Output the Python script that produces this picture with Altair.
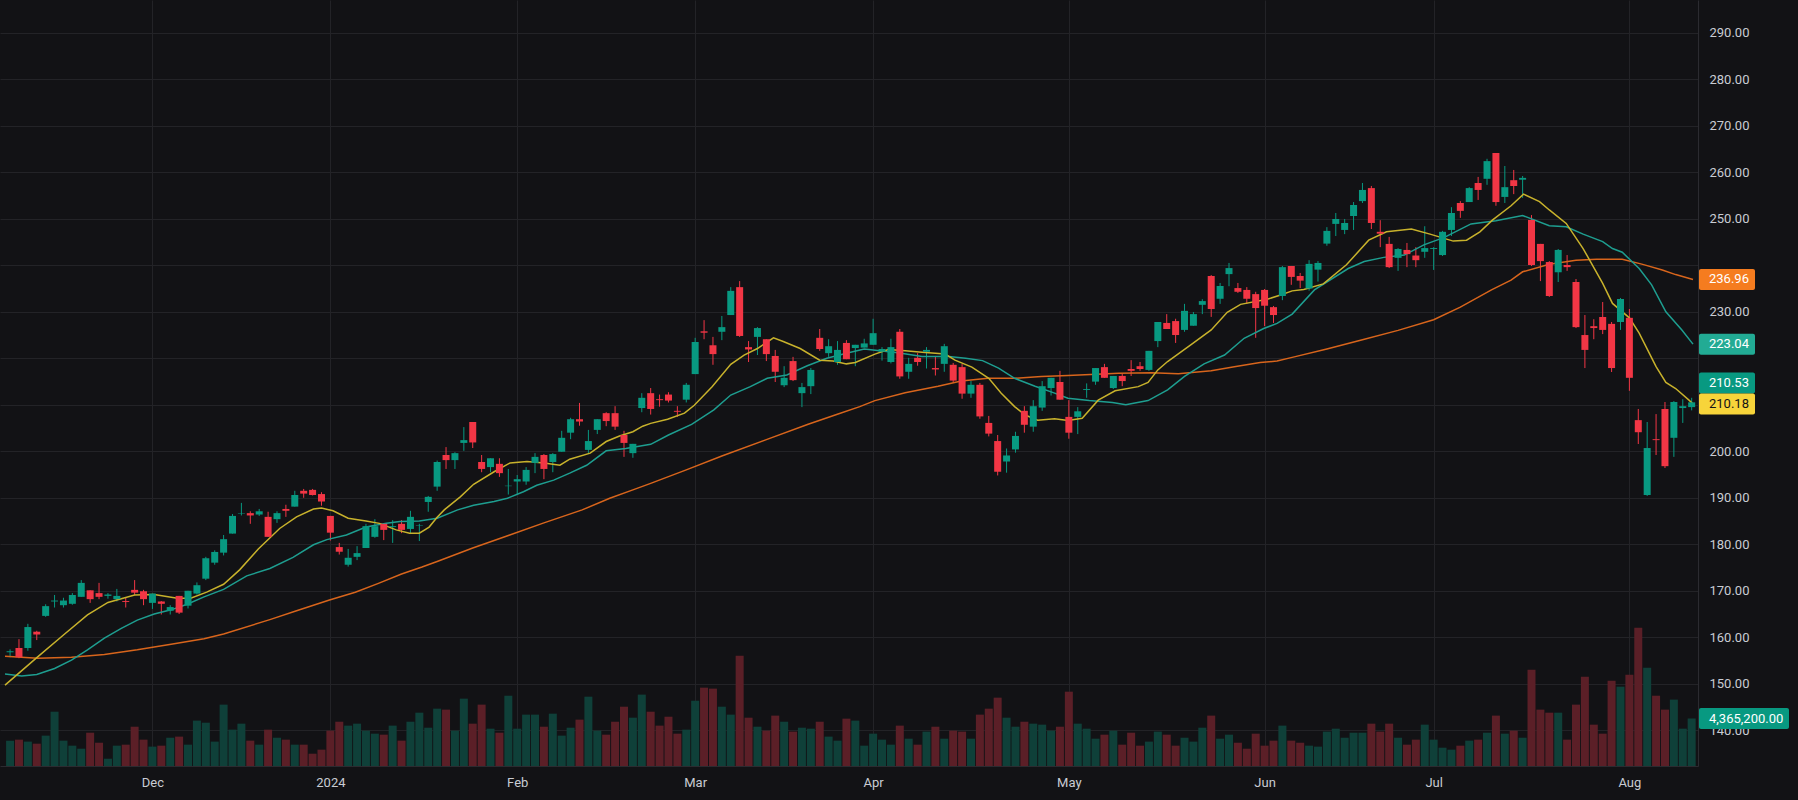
import altair as alt
import pandas as pd

# ---------------- data ----------------
month_idx = [16, 36, 57, 77, 97, 119, 141, 160, 182]
month_lbl = ["Dec", "2024", "Feb", "Mar", "Apr", "May", "Jun", "Jul", "Aug"]

opens = [156.8, 157.7, 157.7, 161.2, 164.6, 167.7, 166.9, 167.2, 168.7, 170.1,
         169.5, 168.9, 168.2, 167.8, 170.2, 169.9, 167.4, 167.7, 165.7, 168.9,
         166.8, 169.4, 172.6, 176.05, 178.2, 182.3, 186.6, 186.7, 186.4, 185.9,
         185.4, 187.6, 188.1, 191.5, 191.7, 190.8, 186.1, 179.4, 175.6, 177.3,
         179.2, 181.6, 184.4, 183.7, 184.4, 183.3, 184.0, 189.1, 192.4, 199.2,
         198.1, 201.8, 206.3, 197.7, 196.6, 197.3, 192.5, 193.5, 193.5, 197.5,
         199.2, 197.7, 199.9, 204.0, 206.9, 200.3, 204.6, 208.2, 208.2, 203.5,
         199.6, 209.3, 212.5, 211.2, 212.2, 208.7, 211.1, 216.6, 225.8, 222.8,
         225.7, 229.3, 235.3, 222.4, 224.6, 224.1, 220.5, 214.2, 219.4, 212.5,
         214.0, 224.4, 221.1, 219.2, 223.3, 222.2, 222.3, 222.9, 221.4, 219.2,
         225.7, 217.1, 220.1, 221.4, 217.9, 218.8, 218.6, 218.1, 212.4, 214.3,
         206.1, 202.2, 197.8, 200.4, 208.7, 205.3, 209.4, 213.6, 214.9, 207.4,
         207.4, 213.2, 214.98, 218.1, 213.6, 216.2, 217.7, 218.3, 217.5, 223.7,
         227.6, 228.0, 226.1, 227.0, 231.5, 237.7, 232.8, 238.1, 235.1, 234.7,
         233.8, 234.7, 231.0, 233.4, 239.85, 237.7, 235.0, 239.06, 244.66, 248.9,
         247.6, 250.6, 253.8, 256.6, 247.2, 244.6, 241.6, 243.3, 242.1, 242.9,
         243.5, 242.2, 247.6, 253.4, 253.6, 257.7, 258.6, 264.15, 254.7, 258.3,
         258.4, 249.75, 244.6, 240.7, 238.5, 240.06, 236.4, 225.0, 226.9, 228.88,
         227.4, 227.8, 228.7, 206.7, 190.6, 202.6, 209.1, 202.9, 209.3, 209.5]
highs = [157.4, 159.6, 162.9, 161.4, 167.1, 169.1, 168.5, 169.5, 172.3, 170.1,
         171.7, 169.5, 170.4, 168.5, 172.3, 170.2, 169.4, 167.8, 166.9, 168.9,
         170.0, 171.8, 177.3, 178.7, 182.0, 186.5, 188.9, 187.1, 187.6, 187.0,
         187.1, 188.5, 191.5, 191.9, 191.9, 191.2, 186.1, 180.3, 179.0, 179.6,
         184.4, 185.4, 184.4, 185.2, 185.2, 187.2, 184.4, 190.4, 198.0, 200.9,
         199.8, 205.2, 206.3, 199.2, 198.5, 198.5, 196.2, 194.9, 196.6, 199.6,
         199.4, 199.6, 204.4, 207.2, 210.4, 204.6, 206.9, 208.4, 209.7, 204.4,
         201.6, 212.5, 213.6, 212.2, 212.7, 209.7, 214.7, 224.4, 228.2, 224.6,
         229.1, 235.3, 236.6, 223.7, 226.7, 224.1, 221.8, 218.3, 220.3, 214.7,
         217.9, 226.3, 224.1, 223.7, 223.9, 222.9, 224.2, 228.5, 222.4, 224.2,
         226.3, 220.1, 221.1, 222.4, 220.5, 223.1, 219.0, 218.8, 215.1, 214.7,
         207.6, 203.5, 200.6, 204.2, 209.7, 211.0, 215.1, 215.8, 217.3, 211.0,
         209.5, 214.6, 217.9, 218.8, 216.2, 216.8, 219.6, 219.2, 221.6, 227.8,
         229.5, 228.5, 231.7, 229.96, 232.7, 237.9, 236.2, 240.5, 236.2, 235.3,
         234.3, 234.9, 231.25, 239.85, 239.85, 238.35, 241.1, 240.9, 248.2, 251.25,
         249.96, 253.6, 257.7, 257.06, 249.7, 246.1, 243.7, 244.8, 243.9, 248.4,
         243.9, 247.4, 252.5, 253.8, 256.8, 259.0, 262.9, 264.15, 261.35, 260.5,
         259.2, 250.8, 244.6, 240.9, 243.5, 242.2, 237.05, 229.3, 228.4, 232.1,
         227.8, 232.97, 230.6, 209.1, 206.3, 208.0, 210.6, 210.8, 211.2, 211.5]
lows = [155.7, 155.5, 157.1, 159.4, 164.4, 166.4, 166.4, 167.0, 168.7, 167.4,
        168.2, 168.3, 167.7, 166.4, 169.1, 166.9, 166.1, 164.9, 164.9, 165.0,
        166.2, 169.2, 172.3, 175.6, 177.6, 182.3, 186.2, 184.4, 186.1, 181.6,
        184.6, 185.9, 188.1, 190.0, 190.5, 188.3, 180.8, 177.8, 175.2, 176.6,
        179.2, 181.4, 180.9, 180.3, 182.4, 182.2, 180.7, 187.0, 191.5, 196.2,
        196.2, 200.1, 200.7, 195.5, 195.5, 194.5, 190.7, 190.7, 192.8, 195.3,
        194.0, 195.5, 199.9, 202.6, 205.5, 199.6, 203.7, 205.4, 204.6, 198.8,
        198.6, 208.4, 207.9, 209.6, 210.5, 207.4, 210.5, 216.6, 224.1, 218.6,
        223.9, 229.3, 224.6, 219.2, 220.7, 219.4, 214.9, 213.8, 215.1, 209.5,
        212.3, 221.6, 220.3, 218.6, 219.8, 218.3, 222.3, 222.9, 219.5, 218.9,
        215.6, 215.6, 218.4, 217.8, 216.3, 217.1, 214.8, 211.3, 211.5, 207.0,
        203.2, 194.8, 195.4, 199.7, 204.0, 204.2, 208.7, 212.0, 211.1, 202.7,
        203.7, 211.5, 214.3, 215.8, 213.4, 214.0, 216.2, 217.3, 217.3, 222.4,
        226.3, 223.3, 225.7, 227.0, 229.5, 228.9, 231.7, 235.5, 234.05, 231.7,
        224.4, 226.9, 227.6, 232.5, 235.8, 235.1, 234.55, 236.5, 244.2, 246.3,
        246.7, 247.6, 253.4, 247.8, 243.9, 239.4, 238.8, 239.6, 239.6, 241.6,
        239.0, 242.0, 246.3, 250.2, 253.6, 254.05, 257.3, 252.8, 253.4, 255.3,
        254.5, 239.85, 236.6, 233.2, 236.4, 238.8, 226.5, 217.9, 224.1, 225.2,
        217.05, 226.1, 213.0, 201.57, 190.4, 199.2, 196.4, 198.8, 206.1, 208.8]
closes = [157.0, 155.7, 162.2, 160.6, 166.7, 167.9, 167.9, 169.1, 171.7, 168.2,
          168.7, 169.2, 168.9, 167.6, 169.6, 168.2, 169.4, 167.2, 166.5, 165.3,
          170.0, 171.2, 177.0, 178.35, 181.1, 186.1, 186.7, 186.2, 187.1, 181.6,
          186.7, 187.2, 190.6, 190.9, 190.6, 189.2, 182.5, 178.4, 177.1, 178.1,
          183.9, 183.9, 183.1, 183.9, 183.1, 185.9, 184.1, 190.2, 197.7, 198.1,
          199.6, 202.4, 201.9, 196.2, 198.5, 195.3, 192.6, 194.0, 196.0, 198.8,
          196.2, 199.4, 202.9, 206.9, 206.4, 202.2, 206.9, 206.5, 205.3, 201.8,
          201.6, 211.5, 209.1, 211.0, 210.9, 208.5, 214.3, 223.5, 225.5, 220.9,
          226.7, 234.5, 224.8, 221.9, 226.5, 220.9, 217.1, 215.8, 215.3, 213.8,
          217.5, 222.0, 222.6, 221.8, 219.8, 222.9, 223.2, 225.4, 222.0, 222.4,
          216.1, 218.8, 219.2, 221.8, 217.6, 222.6, 215.2, 212.4, 214.3, 207.5,
          203.8, 195.6, 199.1, 203.3, 205.7, 209.7, 214.0, 215.8, 211.1, 204.0,
          208.6, 213.4, 217.9, 215.8, 216.2, 215.1, 217.3, 217.7, 221.6, 227.8,
          226.3, 225.0, 230.2, 229.5, 232.3, 230.6, 235.55, 239.4, 234.3, 232.8,
          230.8, 231.3, 229.3, 239.6, 237.5, 236.7, 240.3, 240.5, 247.4, 249.96,
          249.1, 252.97, 256.2, 249.1, 246.8, 239.6, 243.5, 242.4, 241.1, 243.7,
          243.7, 247.2, 251.25, 251.7, 256.6, 256.2, 262.4, 253.6, 256.8, 257.05,
          258.8, 240.06, 240.9, 233.4, 243.3, 239.6, 226.7, 221.8, 226.5, 226.1,
          217.9, 232.75, 215.8, 204.1, 200.7, 202.4, 196.8, 210.6, 209.7, 210.53]
volumes_m = [2.33, 2.42, 2.24, 2.05, 2.79, 4.99, 2.33, 1.87, 1.59, 3.06,
             2.14, 0.67, 1.87, 1.96, 3.61, 2.42, 1.78, 1.87, 2.60, 2.70,
             1.96, 4.17, 3.98, 2.24, 5.64, 3.34, 3.89, 2.33, 1.96, 3.34,
             2.60, 2.42, 1.96, 1.96, 1.13, 1.50, 3.25, 4.07, 3.71, 3.89,
             3.25, 2.97, 2.88, 3.71, 2.33, 4.07, 4.90, 3.52, 5.27, 5.18,
             3.25, 6.19, 3.89, 5.64, 3.43, 3.06, 6.46, 3.43, 4.72, 4.72,
             3.61, 4.81, 2.79, 3.52, 4.26, 6.37, 3.25, 2.88, 4.07, 5.45,
             4.44, 6.56, 4.99, 3.71, 4.53, 2.97, 3.34, 6.00, 7.20, 7.11,
             5.45, 4.72, 10.14, 4.44, 3.61, 3.25, 4.63, 4.07, 3.16, 3.52,
             3.43, 4.07, 2.70, 2.33, 4.35, 4.17, 1.87, 2.97, 2.42, 1.96,
             3.71, 2.51, 1.96, 3.16, 3.61, 2.51, 3.25, 3.16, 2.51, 4.72,
             5.27, 6.28, 4.44, 3.61, 4.07, 3.89, 3.80, 3.25, 3.61, 6.83,
             3.89, 3.43, 2.51, 2.88, 3.25, 1.96, 3.06, 1.87, 2.24, 3.16,
             2.88, 1.87, 2.60, 2.24, 3.52, 4.63, 2.51, 2.88, 2.14, 1.59,
             2.97, 1.87, 2.33, 3.71, 2.33, 2.14, 1.87, 1.78, 3.16, 3.43,
             2.60, 3.06, 3.06, 3.89, 3.16, 3.89, 2.60, 1.96, 2.42, 3.80,
             2.42, 1.68, 1.50, 1.87, 2.33, 2.42, 3.06, 4.63, 2.97, 3.25,
             2.60, 8.85, 5.18, 4.90, 4.90, 2.42, 5.64, 8.21, 3.80, 2.97,
             7.84, 7.29, 8.39, 12.71, 9.04, 6.46, 5.18, 6.10, 3.43, 4.3652]

# moving-average lines (bar index, value)
fast_i = [-0.57, 3.1, 6, 8.7, 11, 14, 16.2, 18.8, 20.3, 22.1,
          24, 25.8, 27.9, 30.3, 32.2, 34.1, 35, 36.3, 38, 40,
          41.5, 43.4, 44.9, 46, 47.1, 48, 48.8, 50.6, 52.1, 54.4,
          56.2, 58.1, 60, 61.8, 62.9, 65.2, 67, 68.5, 70, 71.1,
          72, 73.9, 75.8, 76.9, 78.9, 81, 82.5, 84, 85.8, 86.9,
          88.8, 91, 92.5, 94, 95, 97.2, 98.7, 100.6, 102.5, 105.1,
          106.2, 108.1, 110, 111.4, 112.9, 114.1, 115.5, 117.4, 118.9, 120.5,
          122.3, 124.2, 126.8, 127.9, 129, 130.1, 132.7, 135, 136.8, 138.3,
          141.3, 142.8, 144.1, 145.4, 147.6, 150.2, 152.7, 154.7, 157.5, 159.6,
          162.2, 163.7, 165.2, 166.6, 168.7, 170.1, 171.9, 173, 174.9, 176.8,
          179, 180.1, 182, 183.1, 185, 186.1, 187.2, 188.7, 189.15]
fast_v = [149.7, 155.8, 160.5, 164.8, 167.5, 169.1, 169.2, 168.4, 168.4, 169.7,
          171.4, 174.5, 179.0, 183.4, 185.9, 187.6, 187.8, 187.2, 185.6, 185.0,
          184.5, 183.1, 182.4, 182.4, 183.7, 185.8, 187.4, 190.2, 192.9, 195.6,
          197.5, 197.8, 197.5, 197.0, 198.3, 199.6, 202.1, 203.3, 204.2, 205.4,
          206.0, 206.9, 208.2, 209.9, 213.9, 218.7, 220.7, 222.1, 224.4, 223.6,
          222.1, 219.6, 219.4, 218.8, 219.1, 220.9, 221.9, 221.6, 221.3, 220.9,
          219.6, 218.1, 215.7, 212.5, 209.6, 207.8, 206.7, 207.0, 206.6, 207.1,
          211.0, 213.0, 213.9, 214.8, 217.5, 219.3, 222.9, 226.1, 229.9, 231.6,
          232.7, 233.6, 234.5, 234.8, 236.0, 240.1, 245.4, 247.2, 247.8, 246.7,
          245.2, 245.4, 247.2, 249.7, 252.8, 255.3, 253.7, 251.9, 249.0, 243.6,
          236.1, 231.8, 228.7, 225.4, 218.2, 214.8, 213.5, 211.0, 210.18]
mid_i = [-0.57, 1.3, 3, 5, 6.9, 8.7, 10.6, 12.5, 14.3, 16.2,
         18.1, 19.9, 21.8, 22.9, 24, 26.6, 29.2, 31.8, 34.1, 35.6,
         37.8, 40, 42.3, 43.8, 46, 48, 50.3, 52.1, 54.4, 55.9,
         57.7, 59.2, 61.1, 62.9, 64.8, 67, 69.2, 72, 74, 76.6,
         79.1, 81, 83.2, 85.1, 87.3, 89.6, 91.8, 94, 96, 99.8,
         102.5, 105.5, 107.4, 109.3, 111.1, 112.9, 115.2, 117.4, 118.9, 121.3,
         123.9, 125.4, 127.9, 130.1, 132, 134.2, 136.5, 138.7, 140.9, 142.4,
         144.1, 146.6, 150.4, 152.2, 154.4, 156.7, 158.9, 161.2, 164.2, 167,
         170, 173, 174.9, 176.8, 179, 180.1, 181.2, 183.1, 184.5, 186.1, 187.9, 189.15]
mid_v = [152.1, 151.7, 152.0, 153.3, 155.1, 157.3, 159.8, 161.9, 163.7, 165.0,
         165.9, 167.1, 168.7, 169.5, 170.3, 173.2, 174.8, 177.2, 179.9, 181.0,
         182.0, 183.7, 184.5, 184.9, 185.0, 185.6, 187.4, 188.4, 189.2, 189.9,
         191.3, 192.7, 193.8, 195.3, 197.0, 200.1, 200.6, 201.5, 203.5, 205.8,
         208.9, 212.1, 213.9, 215.7, 216.4, 218.4, 220.0, 221.1, 222.0, 221.2,
         220.4, 220.4, 220.0, 219.5, 217.9, 215.7, 214.0, 212.5, 211.4, 210.9,
         210.5, 210.0, 210.9, 213.2, 216.1, 218.8, 220.7, 224.3, 226.4, 227.5,
         229.5, 234.7, 239.3, 240.8, 241.7, 242.2, 244.4, 246.0, 248.9, 249.6,
         250.7, 248.5, 248.3, 246.7, 245.1, 243.6, 242.8, 239.3, 235.8, 230.0, 226.1, 223.04]
slow_i = [-0.57, 3.1, 6.9, 10.6, 14.3, 18.1, 21.8, 24, 29.2, 32.2,
          35.9, 38.8, 41.4, 44, 46.3, 48, 52, 56, 60, 64.3,
          67.4, 70, 72, 76, 80, 85, 89.7, 92.9, 95.5, 97.2,
          100.6, 104.3, 106.9, 109.9, 112.9, 115.9, 118.9, 124.6, 128.3, 131.3,
          135, 137.6, 140.5, 142.4, 144.1, 148, 152, 156, 160, 163,
          166.5, 168.7, 170, 173, 176, 178.3, 181.2, 183.5, 185.7, 187.2, 189.15]
slow_v = [155.9, 155.5, 155.7, 156.3, 157.3, 158.5, 159.7, 160.7, 163.8, 165.7,
          168.0, 169.7, 171.6, 173.6, 175.1, 176.3, 179.2, 181.9, 184.6, 187.4,
          189.9, 191.7, 193.1, 196.0, 199.0, 202.5, 205.8, 207.9, 209.6, 210.9,
          212.6, 214.0, 215.1, 215.7, 215.7, 216.1, 216.3, 216.8, 216.9, 216.7,
          217.3, 218.2, 219.1, 219.4, 220.2, 222.0, 224.0, 226.0, 228.3, 231.0,
          234.7, 236.8, 238.6, 240.2, 241.1, 241.3, 241.3, 240.2, 239.0, 238.0, 236.96]

# last-value tags on the price scale
tag_text = ["236.96", "223.04", "210.53", "210.18"]
tag_price = [236.96, 223.04, 210.53, 210.18]
tag_fill = ["#f57c1f", "#22ab94", "#089981", "#f7d43a"]
tag_ink = ["#ffffff", "#ffffff", "#ffffff", "#131316"]
vol_tag_text = "4,365,200.00"
vol_tag_value = 4365200

# ---------------- styling / layout ----------------
W, H = 1698, 766
X0, X1 = -0.57, 189.15
P0, P1 = 132.32, 297.05
VOL_TOP = H * 91900
BG = "#121215"
GRID = "#232327"
SEP = "#2b2b30"
TXT = "#c9ccd3"
FONT = "Roboto"
UP, DOWN = "#089981", "#f23645"
VUP, VDOWN = "#0f4039", "#5b1f27"
TAG_H = 21
PX = H / (P1 - P0)

n = len(opens)
df = pd.DataFrame({"i": list(range(n)), "o": opens, "h": highs, "l": lows, "c": closes,
                   "v": [v * 1e6 for v in volumes_m]})
df["dir"] = ["up" if c >= o else "down" for o, c in zip(df.o, df.c)]

xs = alt.Scale(domain=[X0, X1], nice=False, zero=False)
ps = alt.Scale(domain=[P0, P1], nice=False, zero=False)
vs = alt.Scale(domain=[0, VOL_TOP], nice=False, zero=False)

# resolve overlapping tags (stack upward like the reference)
order = sorted(range(len(tag_price)), key=lambda k: tag_price[k])
centers = {}
prev = None
for k in order:
    yc = (P1 - tag_price[k]) * PX
    if prev is not None and yc > prev - TAG_H:
        yc = prev - TAG_H
    centers[k] = yc
    prev = yc
tags = pd.DataFrame({
    "t": tag_text,
    "fill": tag_fill,
    "ink": tag_ink,
    "pc": [P1 - centers[k] / PX for k in range(len(tag_price))],
})
tags["lo"] = tags.pc - (TAG_H / 2) / PX
tags["hi"] = tags.pc + (TAG_H / 2) / PX

hidden = [v for v in range(140, 300, 10)
          if any(abs((P1 - v) * PX - centers[k]) < 14.15 for k in centers)]
hide_expr = "indexof([" + ",".join(str(v) for v in hidden) + "], datum.value) >= 0 ? '' : format(datum.value, '.2f')"

lbl_expr = ""
for v, s in zip(month_idx, month_lbl):
    lbl_expr += f"datum.value == {v} ? '{s}' : "
lbl_expr += "''"

x_axis = alt.Axis(values=month_idx, labelExpr=lbl_expr, grid=True, gridColor=GRID,
                  ticks=False, domain=True, domainColor=SEP, labelColor=TXT,
                  labelFontSize=13, labelFont=FONT, labelPadding=10, title=None,
                  labelAngle=0, labelFlush=False)
X = alt.X("i:Q", scale=xs, axis=x_axis)

y_axis = alt.Axis(orient="right", values=list(range(140, 300, 10)), labelExpr=hide_expr,
                  grid=True, gridColor=GRID, ticks=False, domain=True, domainColor=SEP,
                  labelColor=TXT, labelFontSize=13, labelFont=FONT, labelPadding=11,
                  title=None, labelFlush=False)

is_up = alt.datum.dir == "up"
dir_color = alt.condition(is_up, alt.value(UP), alt.value(DOWN))
vol_color = alt.condition(is_up, alt.value(VUP), alt.value(VDOWN))

base = alt.Chart(df)

vol = base.mark_bar(size=8, clip=True).encode(
    x=X, y=alt.Y("v:Q", scale=vs, axis=None), color=vol_color)

wick = base.mark_rule(strokeWidth=1, clip=True).encode(
    x=X, y=alt.Y("l:Q", scale=ps, axis=y_axis), y2="h:Q", color=dir_color)

body = base.mark_bar(size=7, clip=True).encode(
    x=X, y=alt.Y("o:Q", scale=ps, axis=None), y2="c:Q", color=dir_color)


def ma_layer(ix, vals, color):
    d = pd.DataFrame({"i": ix, "m": vals})
    return alt.Chart(d).mark_line(color=color, strokeWidth=1.5, clip=True).encode(
        x=X, y=alt.Y("m:Q", scale=ps, axis=None))


slow = ma_layer(slow_i, slow_v, "#d8651c")
mid = ma_layer(mid_i, mid_v, "#1e9e90")
fast = ma_layer(fast_i, fast_v, "#c8b22c")

tag_rect = alt.Chart(tags).mark_rect(cornerRadius=2).encode(
    x=alt.value(W + 1), x2=alt.value(W + 57),
    y=alt.Y("lo:Q", scale=ps, axis=None), y2="hi:Q",
    color=alt.Color("fill:N", scale=None))
tag_txt = alt.Chart(tags).mark_text(align="left", baseline="middle", font=FONT, fontSize=13).encode(
    x=alt.value(W + 11), y=alt.Y("pc:Q", scale=ps, axis=None), text="t:N",
    color=alt.Color("ink:N", scale=None))

vt = pd.DataFrame({"t": [vol_tag_text], "v": [vol_tag_value]})
vt["lo"] = vt.v - (TAG_H / 2) * 91900
vt["hi"] = vt.v + (TAG_H / 2) * 91900
vtag_rect = alt.Chart(vt).mark_rect(cornerRadius=2, color=UP).encode(
    x=alt.value(W + 1), x2=alt.value(W + 91),
    y=alt.Y("lo:Q", scale=vs, axis=None), y2="hi:Q")
vtag_txt = alt.Chart(vt).mark_text(align="left", baseline="middle", font=FONT, fontSize=13,
                                   color="#ffffff").encode(
    x=alt.value(W + 11), y=alt.Y("v:Q", scale=vs, axis=None), text="t:N")

chart = alt.layer(
    wick, vol, slow, mid, fast, body, tag_rect, tag_txt, vtag_rect, vtag_txt
).resolve_scale(y="independent", color="independent").properties(
    width=W, height=H, background=BG,
    padding={"left": 0, "top": 0, "right": 100, "bottom": 34},
    autosize="none",
).configure_view(strokeWidth=0)

chart.save("out.html", embed_options={"renderer": "svg", "actions": False})
